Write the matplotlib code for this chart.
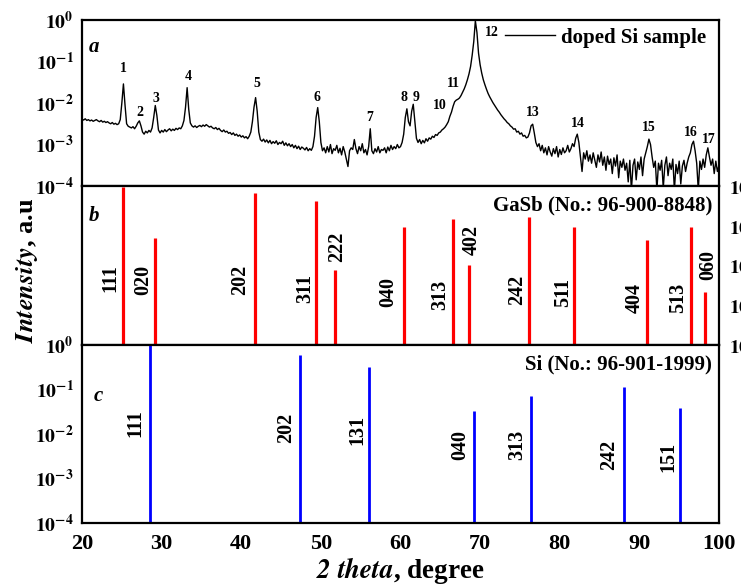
import numpy as np
import matplotlib
matplotlib.use('Agg')
import matplotlib.pyplot as plt
from matplotlib.transforms import blended_transform_factory

plt.rcParams['font.family'] = ['Liberation Serif', 'DejaVu Serif']
plt.rcParams['font.weight'] = 'bold'
plt.rcParams['mathtext.fontset'] = 'stix'

# ---------------- data ----------------
# measured XRD pattern (log10 intensity), 2theta from 20 to 100 deg in 0.2 deg steps
scan_start, scan_step = 20.0, 0.2
log_intensity = [
    -2.39, -2.41, -2.38, -2.42, -2.40, -2.43, -2.41, -2.44, -2.42, -2.40,
    -2.43, -2.45, -2.42, -2.46, -2.44, -2.47, -2.45, -2.48, -2.50, -2.47,
    -2.51, -2.49, -2.52, -2.50, -2.40, -2.00, -1.54, -2.05, -2.50, -2.56,
    -2.58, -2.60, -2.57, -2.62, -2.56, -2.48, -2.43, -2.55, -2.70, -2.75,
    -2.68, -2.72, -2.66, -2.70, -2.60, -2.35, -2.06, -2.30, -2.65, -2.72,
    -2.66, -2.70, -2.64, -2.69, -2.65, -2.62, -2.67, -2.63, -2.66, -2.61,
    -2.64, -2.60, -2.62, -2.55, -2.42, -2.10, -1.63, -2.15, -2.48, -2.55,
    -2.58, -2.55, -2.59, -2.56, -2.54, -2.57, -2.53, -2.56, -2.52, -2.55,
    -2.58, -2.56, -2.60, -2.62, -2.59, -2.64, -2.61, -2.66, -2.69, -2.65,
    -2.70, -2.68, -2.73, -2.71, -2.76, -2.72, -2.78, -2.75, -2.80, -2.77,
    -2.82, -2.79, -2.84, -2.81, -2.86, -2.80, -2.70, -2.45, -2.10, -1.87,
    -2.20, -2.70, -2.88, -2.92, -2.87, -2.94, -2.89, -2.96, -2.90, -2.98,
    -2.93, -2.97, -2.91, -3.00, -2.95, -2.98, -2.92, -3.02, -2.96, -3.03,
    -2.98, -3.05, -3.00, -3.08, -3.02, -3.10, -3.04, -3.12, -3.06, -3.09,
    -3.13, -3.07, -3.15, -3.10, -3.14, -3.05, -2.80, -2.35, -2.11, -2.45,
    -2.95, -3.15, -3.08, -3.20, -3.05, -3.18, -3.00, -3.22, -3.10, -3.14,
    -3.02, -3.20, -3.09, -3.25, -3.05, -3.18, -3.35, -3.53, -3.15, -3.08,
    -3.12, -2.88, -3.10, -3.22, -3.05, -3.15, -2.98, -3.20, -3.12, -3.25,
    -3.05, -2.62, -3.15, -3.22, -3.10, -3.18, -3.05, -3.20, -3.12, -3.14,
    -3.08, -3.20, -3.06, -3.15, -3.02, -3.12, -3.05, -3.10, -3.00, -3.08,
    -3.05, -2.95, -2.75, -2.35, -2.14, -2.45, -2.55, -2.20, -2.03, -2.45,
    -2.85, -2.95, -2.88, -2.98, -2.90, -2.96, -2.86, -2.92, -2.84, -2.87,
    -2.80, -2.83, -2.76, -2.78, -2.72, -2.70, -2.65, -2.62, -2.58, -2.52,
    -2.45, -2.32, -2.22, -2.08, -1.97, -1.93, -1.91, -1.88, -1.82, -1.74,
    -1.66, -1.56, -1.44, -1.30, -1.12, -0.85, -0.52, -0.02, -0.30, -0.80,
    -1.08, -1.28, -1.44, -1.56, -1.67, -1.77, -1.85, -1.92, -1.99, -2.05,
    -2.11, -2.17, -2.22, -2.28, -2.33, -2.38, -2.42, -2.47, -2.50, -2.55,
    -2.58, -2.63, -2.62, -2.70, -2.68, -2.75, -2.72, -2.80, -2.78, -2.84,
    -2.82, -2.72, -2.55, -2.51, -2.72, -2.95, -3.05, -2.98, -3.15, -3.02,
    -3.20, -3.08, -3.25, -3.05, -3.18, -3.28, -3.10, -3.22, -3.05, -3.30,
    -3.12, -3.24, -3.08, -3.20, -3.15, -3.02, -3.18, -3.10, -2.98, -3.05,
    -2.85, -2.75, -2.95, -3.30, -3.65, -3.20, -3.35, -3.15, -3.40, -3.25,
    -3.45, -3.20, -3.38, -3.55, -3.25, -3.42, -3.18, -3.50, -3.30, -3.62,
    -3.28, -3.48, -3.35, -3.70, -3.32, -3.52, -3.25, -3.80, -3.40, -3.55,
    -3.35, -3.62, -3.45, -3.90, -3.38, -4.10, -3.50, -3.35, -3.85, -3.42,
    -3.60, -3.30, -3.75, -3.35, -3.20, -3.05, -2.87, -3.00, -3.30, -3.55,
    -3.40, -4.10, -3.45, -3.62, -3.38, -4.05, -3.50, -3.30, -3.75, -3.45,
    -3.60, -3.35, -4.10, -3.48, -3.70, -3.40, -3.95, -3.52, -3.38, -3.65,
    -3.45, -3.30, -3.20, -3.00, -2.92, -3.15, -3.45, -4.10, -3.40, -3.60,
    -3.35, -3.55, -3.25, -3.08, -3.30, -3.50, -3.35, -3.70, -3.40, -3.65,
    -3.50,
]

# numbered peaks of the sample pattern (label position: 2theta, log10 intensity)
peak_ids = ['1', '2', '3', '4', '5', '6', '7', '8', '9', '10',
            '11', '12', '13', '14', '15', '16', '17']
peak_label_x = [25.15, 27.28, 29.29, 33.31, 41.98, 49.51, 56.17, 60.44, 61.95, 64.96,
                66.59, 71.49, 76.64, 82.29, 91.20, 96.48, 98.74]
peak_label_logy = [-1.18, -2.24, -1.88, -1.37, -1.52, -1.86, -2.36, -1.86, -1.86, -2.07,
                   -1.52, -0.29, -2.24, -2.50, -2.58, -2.72, -2.89]

# GaSb reference (No.: 96-900-8848)
gasb_hkl = ['111', '020', '202', '311', '222', '040', '313', '402', '242', '511', '404', '513', '060']
gasb_pos = [25.19, 29.17, 41.73, 49.39, 51.77, 60.48, 66.63, 68.60, 76.18, 81.75, 90.92, 96.45, 98.20]
gasb_int = [9600, 490, 6650, 4200, 77, 915, 1450, 103, 1630, 950, 440, 915, 22]
gasb_label_x = [23.52, 27.66, 39.84, 48.00, 52.02, 58.43, 64.96, 68.98, 74.63, 80.41, 89.45, 94.85, 98.62]
gasb_label_y = [0.421, 0.409, 0.409, 0.358, 0.616, 0.333, 0.314, 0.660, 0.346, 0.327, 0.296, 0.296, 0.503]

# Si reference (No.: 96-901-1999)
si_hkl = ['111', '202', '131', '040', '313', '242', '151']
si_pos = [28.50, 47.35, 56.05, 69.20, 76.45, 88.13, 95.04]
si_int = [1.0, 0.60, 0.315, 0.033, 0.0715, 0.112, 0.038]
si_label_x = [26.66, 45.62, 54.54, 67.56, 74.63, 86.19, 93.60]
si_label_y = [0.562, 0.534, 0.522, 0.438, 0.438, 0.382, 0.371]

x_ticks = [20, 30, 40, 50, 60, 70, 80, 90, 100]

# ---------------- figure ----------------
two_theta = scan_start + scan_step * np.arange(len(log_intensity))
intensity = 10.0 ** np.array(log_intensity)

fig = plt.figure(figsize=(7.41, 5.85), dpi=100)
L, W = 0.1107, 0.8596
ax_a = fig.add_axes([L, 0.682, W, 0.2838])
ax_b = fig.add_axes([L, 0.4103, W, 0.2718], sharex=ax_a)
ax_c = fig.add_axes([L, 0.106, W, 0.3043], sharex=ax_a)

def decade_labels(exps):
    return [r'$\mathbf{10^{%d}}$' % e for e in exps]

for ax in (ax_a, ax_b, ax_c):
    for s in ax.spines.values():
        s.set_linewidth(1.6)
    ax.tick_params(length=0, labelsize=14)
    ax.set_yscale('log')
    ax.minorticks_off()

# panel a
ax_a.plot(two_theta, intensity, color='black', lw=1.0, label='doped Si sample')
ax_a.set_ylim(1e-4, 1)
ax_a.set_yticks([1e-4, 1e-3, 1e-2, 1e-1, 1])
ax_a.set_yticklabels(decade_labels([-4, -3, -2, -1, 0]))
ax_a.tick_params(axis='y', pad=6)
ax_a.tick_params(axis='x', labelbottom=False)
for pid, px, py in zip(peak_ids, peak_label_x, peak_label_logy):
    ax_a.text(px, 10 ** py, pid, fontsize=10, fontweight='bold', ha='center', va='center')
ax_a.legend(loc='upper right', bbox_to_anchor=(1.0, 1.03), frameon=False,
            fontsize=15, handlelength=2.4, handletextpad=0.3, borderaxespad=0.2)
ax_a.text(0.019, 0.837, 'a', transform=ax_a.transAxes, fontsize=15,
          fontstyle='italic', fontweight='bold', ha='center', va='center')

# panel b
ax_b.vlines(gasb_pos, 1, gasb_int, color='#ff0000', lw=2.3)
ax_b.set_ylim(1, 1e4)
ax_b.yaxis.tick_right()
ax_b.set_yticks([1, 10, 100, 1e3, 1e4])
ax_b.set_yticklabels(decade_labels([0, 1, 2, 3, 4]))
ax_b.tick_params(axis='y', pad=7)
ax_b.tick_params(axis='x', labelbottom=False)
tb = blended_transform_factory(ax_b.transData, ax_b.transAxes)
for h, lx, ly in zip(gasb_hkl, gasb_label_x, gasb_label_y):
    ax_b.text(lx, ly, h, transform=tb, rotation=90, fontsize=14.5,
              fontweight='bold', ha='center', va='center')
ax_b.text(0.019, 0.81, 'b', transform=ax_b.transAxes, fontsize=15,
          fontstyle='italic', fontweight='bold', ha='center', va='center')
ax_b.text(0.989, 0.88, 'GaSb (No.: 96-900-8848)', transform=ax_b.transAxes,
          fontsize=15, fontweight='bold', ha='right', va='center')

# panel c
ax_c.vlines(si_pos, 1e-4, si_int, color='#0000ff', lw=2.0)
ax_c.set_ylim(1e-4, 1)
ax_c.set_yticks([1e-4, 1e-3, 1e-2, 1e-1, 1])
ax_c.set_yticklabels(decade_labels([-4, -3, -2, -1, 0]))
ax_c.tick_params(axis='y', pad=6)
ax_c.set_xlim(20, 100)
ax_c.set_xticks(x_ticks)
ax_c.set_xticklabels([str(v) for v in x_ticks], fontweight='bold')
ax_c.tick_params(axis='x', pad=8, labelsize=16)
tc = blended_transform_factory(ax_c.transData, ax_c.transAxes)
for h, lx, ly in zip(si_hkl, si_label_x, si_label_y):
    ax_c.text(lx, ly, h, transform=tc, rotation=90, fontsize=14.5,
              fontweight='bold', ha='center', va='center')
ax_c.text(0.025, 0.713, 'c', transform=ax_c.transAxes, fontsize=15,
          fontstyle='italic', fontweight='bold', ha='center', va='center')
ax_c.text(0.989, 0.888, 'Si (No.: 96-901-1999)', transform=ax_c.transAxes,
          fontsize=15, fontweight='bold', ha='right', va='center')

fig.text(0.54, 0.024, r'$\mathbfit{2\ theta}$, degree', fontsize=19.5,
         fontweight='bold', ha='center', va='center')
fig.text(0.036, 0.538, r'$\mathbfit{Intensity}$, a.u', fontsize=19,
         fontweight='bold', ha='center', va='center', rotation=90)

fig.savefig('out.png', dpi=100)
